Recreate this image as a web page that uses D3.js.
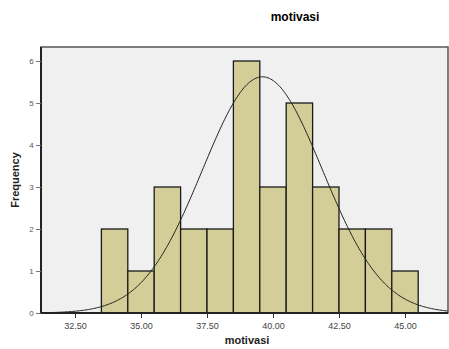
<!DOCTYPE html>
<html>
<head>
<meta charset="utf-8">
<script src="https://cdn.jsdelivr.net/npm/d3@7"></script>
<style>
  body { margin: 0; background: #fff; }
  text { font-family: "Liberation Sans", Arial, sans-serif; }
</style>
</head>
<body>
<div id="chart"></div>
<script>
// histogram data
var binStarts = [33.5, 34.5, 35.5, 36.5, 37.5, 38.5, 39.5, 40.5, 41.5, 42.5, 43.5, 44.5];
var binWidth = 1;
var counts = [2, 1, 3, 2, 2, 6, 3, 5, 3, 2, 2, 1];
var xTicks = [32.5, 35, 37.5, 40, 42.5, 45];
var yTicks = [0, 1, 2, 3, 4, 5, 6];
// fitted normal curve parameters
var mean = 39.6, sd = 2.27;
var total = d3.sum(counts);

var width = 449, height = 349;
var plot = {left: 41, right: 448, top: 47, bottom: 313};

var svg = d3.select("#chart").append("svg")
    .attr("width", width)
    .attr("height", height);

var x = d3.scaleLinear().domain([32.5, 45]).range([75, 405]);
var y = d3.scaleLinear().domain([0, 6]).range([313, 61]);

// plot background
svg.append("rect")
    .attr("x", plot.left).attr("y", plot.top)
    .attr("width", plot.right - plot.left)
    .attr("height", plot.bottom - plot.top)
    .attr("fill", "#f0f0f0")
    .attr("stroke", "#555").attr("stroke-width", 1.5);

// bars
svg.selectAll(".bar")
    .data(counts)
    .enter().append("rect")
    .attr("class", "bar")
    .attr("x", function(d, i) { return x(binStarts[i]); })
    .attr("y", function(d) { return y(d); })
    .attr("width", function(d, i) { return x(binStarts[i] + binWidth) - x(binStarts[i]); })
    .attr("height", function(d) { return y(0) - y(d); })
    .attr("fill", "#d3ce98")
    .attr("stroke", "#1a1a1a")
    .attr("stroke-width", 1.3);

// normal curve
var curveX = d3.range(x.invert(plot.left), x.invert(plot.right), 0.05);
var line = d3.line()
    .x(function(d) { return x(d); })
    .y(function(d) { return y(total * binWidth / (sd * Math.sqrt(2 * Math.PI)) * Math.exp(-0.5 * Math.pow((d - mean) / sd, 2))); })
    .curve(d3.curveBasis);
svg.append("path")
    .datum(curveX)
    .attr("d", line)
    .attr("fill", "none")
    .attr("stroke", "#222")
    .attr("stroke-width", 1);

// axes
var xAxis = svg.append("g")
    .attr("transform", "translate(0," + plot.bottom + ")")
    .call(d3.axisBottom(x).tickValues(xTicks).tickFormat(d3.format(".2f")).tickSize(5).tickSizeOuter(0));
var yAxis = svg.append("g")
    .attr("transform", "translate(" + plot.left + ",0)")
    .call(d3.axisLeft(y).tickValues(yTicks).tickFormat(d3.format("d")).tickSize(5).tickSizeOuter(0));

xAxis.select(".domain").attr("d", "M" + plot.left + ",0H" + plot.right).attr("stroke", "#222").attr("stroke-width", 2);
yAxis.select(".domain").attr("d", "M0," + plot.top + "V" + plot.bottom).attr("stroke", "#222").attr("stroke-width", 2);
xAxis.selectAll(".tick line").attr("stroke", "#333");
yAxis.selectAll(".tick line").attr("stroke", "#777");
xAxis.selectAll(".tick text").attr("font-size", 9).attr("fill", "#444").attr("dy", "0.9em");
yAxis.selectAll(".tick text").attr("font-size", 8).attr("fill", "#555").attr("dx", "0.1em");

// titles
svg.append("text")
    .attr("x", 295).attr("y", 21)
    .attr("text-anchor", "middle")
    .attr("font-size", 12).attr("font-weight", "bold")
    .text("motivasi");

svg.append("text")
    .attr("x", 247).attr("y", 344)
    .attr("text-anchor", "middle")
    .attr("font-size", 11).attr("font-weight", "bold")
    .attr("fill", "#222")
    .text("motivasi");

svg.append("text")
    .attr("transform", "translate(19,180) rotate(-90)")
    .attr("text-anchor", "middle")
    .attr("font-size", 11).attr("font-weight", "bold")
    .attr("fill", "#222")
    .text("Frequency");
</script>
</body>
</html>
